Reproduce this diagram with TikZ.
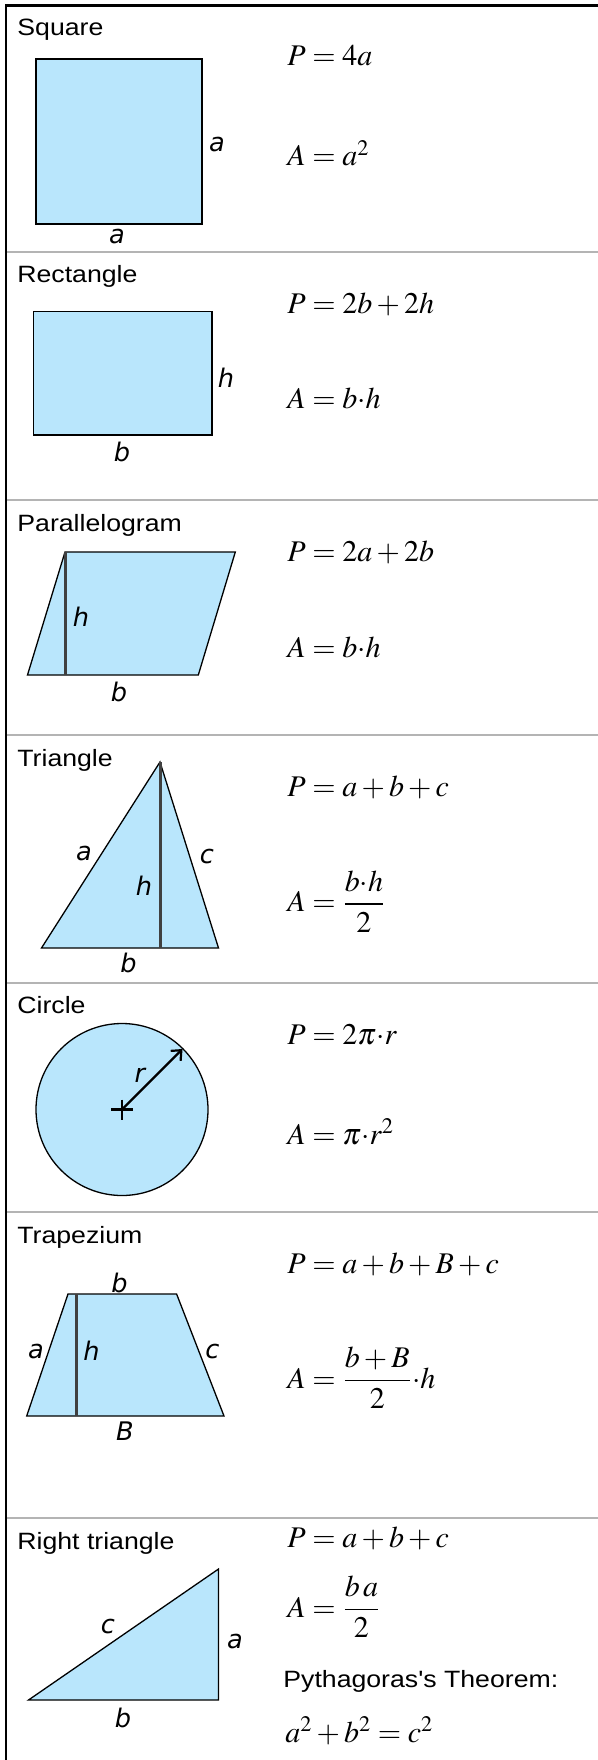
\documentclass[tikz,border=0pt]{standalone}
\usepackage{mathptmx}
\usepackage[no-math]{fontspec}
\newfontfamily\titlefont{Liberation Sans}[FakeStretch=1.13]
\newfontfamily\labelfont{DejaVu Sans}
\usetikzlibrary{arrows.meta,positioning}
\definecolor{shapeblue}{RGB}{185,230,252}
\definecolor{rulegray}{RGB}{180,180,180}
\definecolor{heightgray}{RGB}{64,64,64}

\begin{document}
\begin{tikzpicture}[
  x=0.5pt, y=-0.5pt,
  sectitle/.style={anchor=base west, inner sep=0pt, font=\titlefont\fontsize{11.8}{13}\selectfont},
  formula/.style={anchor=base west, inner sep=0pt, font=\fontsize{15}{18}\selectfont},
  lbl/.style={inner sep=0pt, font=\labelfont\itshape\fontsize{12.8}{15}\selectfont},
  figure/.style={draw, fill=shapeblue, line width=0.65pt},
  heightline/.style={draw=heightgray, line width=1.5pt},
  sepline/.style={draw=rulegray, line width=1pt},
  radarrow/.style={-{Straight Barb[length=4pt, width=7pt]}, line width=1.1pt},
]
\useasboundingbox (0,0) rectangle (598,1760);

% === Frame and separators ===
\draw[line width=1.15pt] (6,1760) -- (6,5.5) -- (598,5.5);
\foreach \y in {252.5,500,735,983,1211.5,1518}
  \draw[sepline] (7,\y) -- (598,\y);

% === Square ===
\node[sectitle] (sqtitle) at (17,36) {Square};
\draw[figure] (36,59) rectangle (202,224);
\node[lbl] (sqside) at (217,144.5) {a};
\node[lbl] (sqbase) at (117,237) {a};
\node[formula] (sqP) at (287,66) {$P=4a$};
\node[formula] (sqA) at (287,166) {$A=a^2$};

% === Rectangle ===
\node[sectitle] (rctitle) at (17,282.7) {Rectangle};
\draw[figure] (33.7,311.5) rectangle (212,435);
\node[lbl] (rch) at (226,377.5) {h};
\node[lbl] (rcb) at (122,451.5) {b};
\node[formula] (rcP) at (287,313) {$P=2b+2h$};
\node[formula] (rcA) at (287,408) {$A=b{\cdot}h$};

% === Parallelogram ===
\node[sectitle] (pgtitle) at (17,531) {Parallelogram};
\coordinate (pgBL) at (27.5,675);
\coordinate (pgBR) at (198.3,675);
\coordinate (pgTR) at (235.3,552);
\coordinate (pgTL) at (65,552);
\coordinate (pgfoot) at (65,675);
\draw[figure] (pgBL) -- (pgTL) -- (pgTR) -- (pgBR) -- cycle;
\draw[heightline] (pgTL) -- (pgfoot);
\node[lbl] (pgh) at (81,617) {h};
\node[lbl] (pgb) at (119,692) {b};
\node[formula] (pgP) at (287,561.5) {$P=2a+2b$};
\node[formula] (pgA) at (287,657.5) {$A=b{\cdot}h$};

% === Triangle ===
\node[sectitle] (trtitle) at (17,766.7) {Triangle};
\coordinate (trapex) at (160,762);
\coordinate (trBL) at (41.5,948);
\coordinate (trBR) at (218.5,948);
\coordinate (trfoot) at (160,948);
\draw[figure] (trBL) -- (trapex) -- (trBR) -- cycle;
\draw[heightline] (trapex) -- (trfoot);
\node[lbl] (tra) at (84,854) {a};
\node[lbl] (trc) at (207,856.5) {c};
\node[lbl] (trh) at (144,886) {h};
\node[lbl] (trb) at (128.6,963) {b};
\node[formula] (trP) at (287,796) {$P=a+b+c$};
\node[formula] (trA) at (287,911.5) {$A=\displaystyle\frac{b{\cdot}h}{2}$};

% === Circle ===
\node[sectitle] (cititle) at (17,1013) {Circle};
\coordinate (cicenter) at (122,1109.5);
\coordinate (cirim) at (182.5,1049);
\draw[figure] (cicenter) circle[radius=86];
\draw[line width=1.3pt] (cicenter) +(-11,0) -- +(11,0) (cicenter) +(0,-10) -- +(0,10);
\draw[radarrow] (cicenter) -- (cirim);
\node[lbl] (cir) at (140,1075) {r};
\node[formula] (ciP) at (287,1044) {$P=2\pi{\cdot}r$};
\node[formula] (ciA) at (287,1144) {$A=\pi{\cdot}r^2$};

% === Trapezium ===
\node[sectitle] (tztitle) at (17,1243) {Trapezium};
\coordinate (tzTL) at (68,1294);
\coordinate (tzTR) at (176.6,1294);
\coordinate (tzBR) at (224,1416);
\coordinate (tzBL) at (26.7,1416);
\coordinate (tzhtop) at (76.7,1294);
\coordinate (tzhfoot) at (76.7,1416);
\draw[figure] (tzBL) -- (tzTL) -- (tzTR) -- (tzBR) -- cycle;
\draw[heightline] (tzhtop) -- (tzhfoot);
\node[lbl] (tzb) at (119.6,1282.5) {b};
\node[lbl] (tza) at (36,1351) {a};
\node[lbl] (tzh) at (91.5,1350.5) {h};
\node[lbl] (tzc) at (212.5,1351) {c};
\node[lbl] (tzB) at (125,1431.5) {B};
\node[formula] (tzP) at (287,1273) {$P=a+b+B+c$};
\node[formula] (tzA) at (287,1388) {$A=\displaystyle\frac{b+B}{2}{\cdot}h$};

% === Right triangle ===
\node[sectitle] (rttitle) at (17,1549) {Right triangle};
\coordinate (rtBL) at (28.5,1700);
\coordinate (rtBR) at (218.5,1700);
\coordinate (rttop) at (218.5,1569);
\draw[figure] (rtBL) -- (rtBR) -- (rttop) -- cycle;
\node[lbl] (rtc) at (108,1626) {c};
\node[lbl] (rta) at (235,1641.5) {a};
\node[lbl] (rtb) at (123,1718) {b};
\node[formula] (rtP) at (287,1547) {$P=a+b+c$};
\node[formula] (rtA) at (287,1617) {$A=\displaystyle\frac{b\,a}{2}$};
\node[sectitle] (rtpyth) at (283,1687) {Pythagoras's Theorem:};
\node[formula] (rtlaw) at (285,1742) {$a^2+b^2=c^2$};

\end{tikzpicture}
\end{document}
